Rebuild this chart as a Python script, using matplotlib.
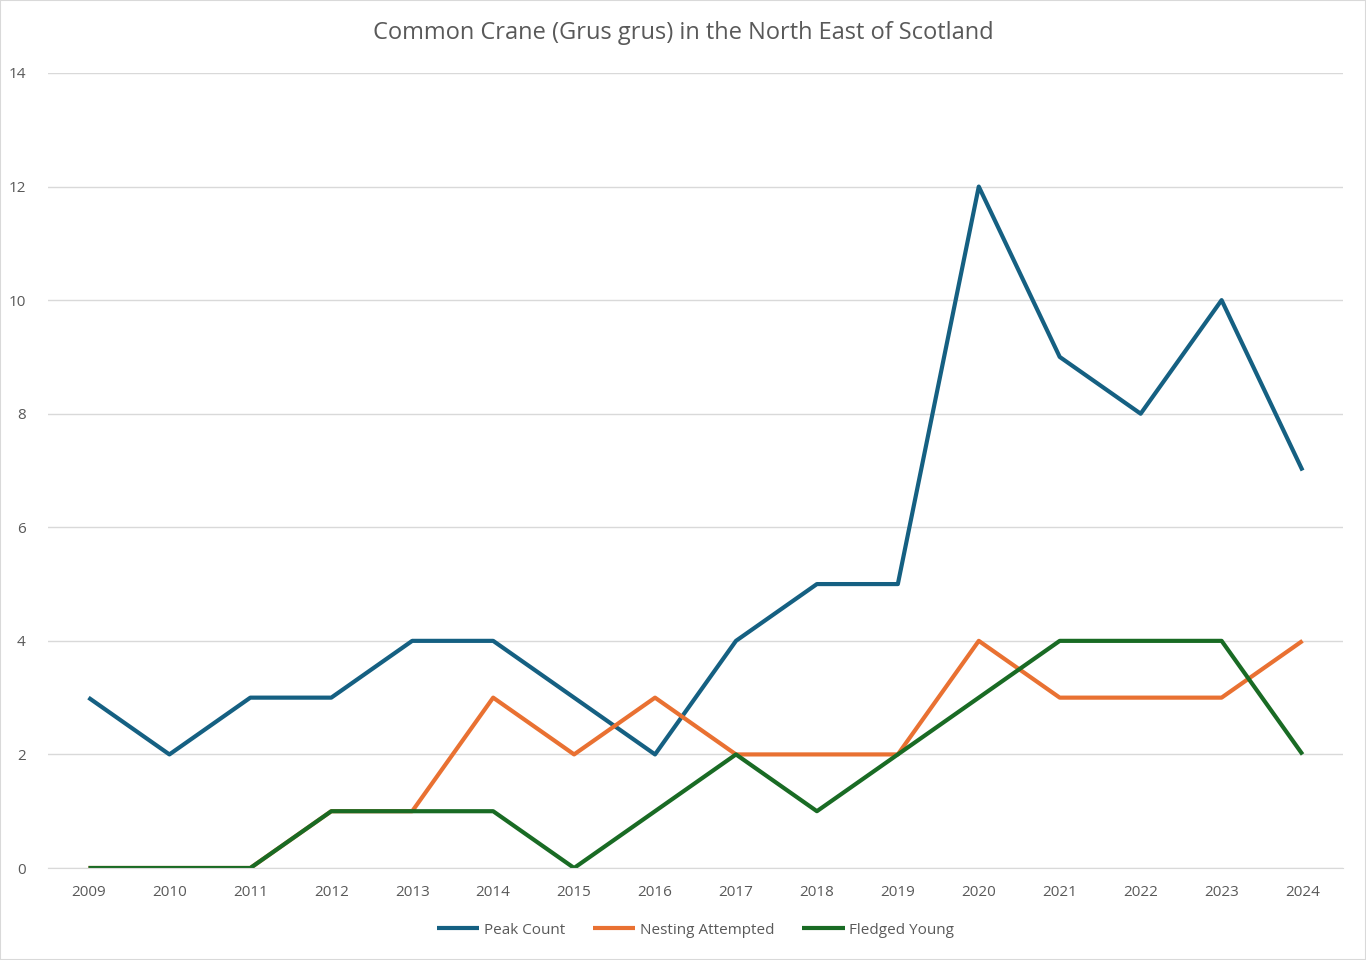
import matplotlib.pyplot as plt

years = [str(y) for y in range(2009, 2025)]
peak_count = [3, 2, 3, 3, 4, 4, 3, 2, 4, 5, 5, 12, 9, 8, 10, 7]
nesting_attempted = [0, 0, 0, 1, 1, 3, 2, 3, 2, 2, 2, 4, 3, 3, 3, 4]
fledged_young = [0, 0, 0, 1, 1, 1, 0, 1, 2, 1, 2, 3, 4, 4, 4, 2]

plt.rcParams['font.family'] = ['Open Sans', 'DejaVu Sans']

fig = plt.figure(figsize=(13.66, 9.6), dpi=100)
fig.patches.append(plt.Rectangle((0, 0), 1, 1, transform=fig.transFigure,
                                 fill=False, edgecolor='#D9D9D9', lw=1.5))
ax = fig.add_axes([48 / 1366, 1 - 868 / 960, 1295 / 1366, 795 / 960])

x = range(len(years))
ax.plot(x, peak_count, color='#156082', lw=3, label='Peak Count',
        solid_capstyle='butt')
ax.plot(x, nesting_attempted, color='#E97132', lw=3, label='Nesting Attempted',
        solid_capstyle='butt')
ax.plot(x, fledged_young, color='#196B24', lw=3, label='Fledged Young',
        solid_capstyle='butt')

ax.set_xlim(-0.5, len(years) - 0.5)
ax.set_ylim(0, 14)
ax.set_yticks(range(0, 15, 2))
ax.set_xticks(list(x))
ax.set_xticklabels(years)
ax.grid(axis='y', color='#D9D9D9', lw=1)
ax.set_axisbelow(True)
for s in ['top', 'right', 'left']:
    ax.spines[s].set_visible(False)
ax.spines['bottom'].set_color('#D9D9D9')
ax.tick_params(length=0, labelsize=11, colors='#595959', pad=12)
ax.tick_params(axis='y', pad=16)

fig.suptitle('Common Crane (Grus grus) in the North East of Scotland',
             y=1 - 33 / 960, va='center', fontsize=17, color='#595959')
ax.legend(loc='center', bbox_to_anchor=(0.5, (868 - 930) / 795), ncol=3,
          frameon=False, fontsize=11, labelcolor='#595959',
          handlelength=2.8, handletextpad=0.3, columnspacing=1.8)

fig.savefig('out.png', dpi=100)
